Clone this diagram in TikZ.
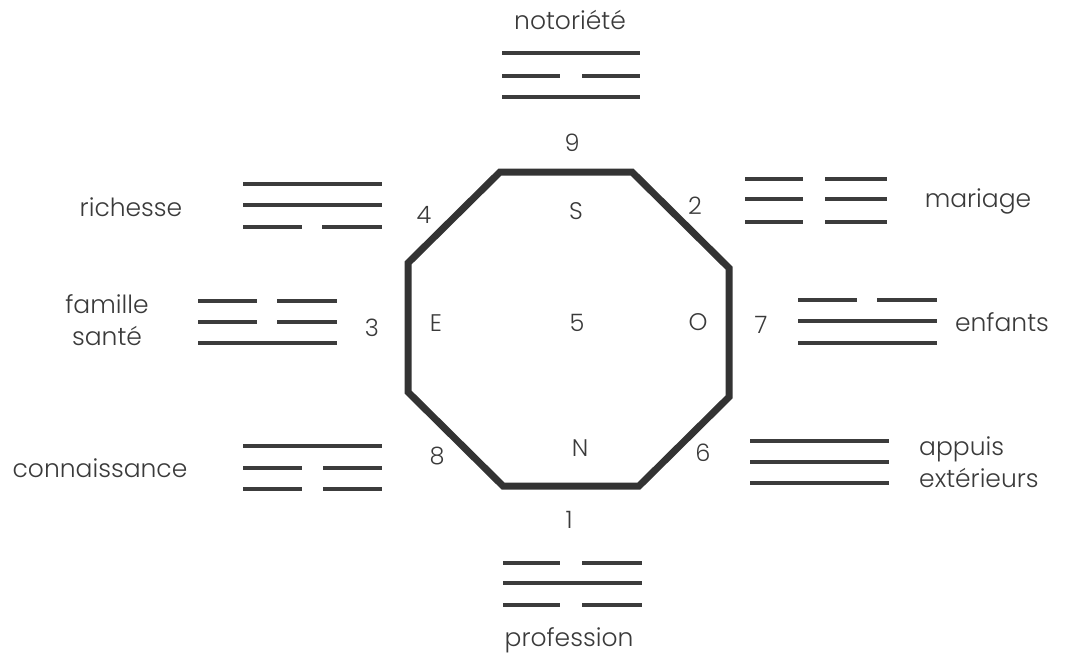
\documentclass[tikz,border=0pt]{standalone}
\usepackage{fontspec}
\setmainfont{Poppins Light}
\definecolor{ink}{HTML}{3A3A3A}
\definecolor{barc}{HTML}{3C3C3C}
\definecolor{octc}{HTML}{333333}
\newcommand\yangbar[3]{\draw[bar] (#1,#3) -- (#2,#3);}
\newcommand\yinbar[5]{\draw[bar] (#1,#5) -- (#2,#5); \draw[bar] (#3,#5) -- (#4,#5);}
\begin{document}
\begin{tikzpicture}[x=1pt,y=-1pt,
  bar/.style={line width=4.6pt,draw=barc},
  oct/.style={line width=7pt,draw=octc,line join=miter},
  lbl/.style={text=ink,font=\fontsize{25}{32}\selectfont,inner sep=0pt},
  num/.style={text=ink,font=\fontsize{24}{30}\selectfont,inner sep=0pt}]
\useasboundingbox (0,0) rectangle (1068,659);
% octagon
\draw[oct] (500,172) -- (632,172) -- (729,268) -- (729,397) -- (639,486) -- (503,486) -- (408,392) -- (408,263) -- cycle;
% inner letters
\node[num] (S) at (576,211) {S};
\node[num] (E) at (436,323) {E};
\node[num] (C) at (577,323) {5};
\node[num] (O) at (698,322) {O};
\node[num] (N) at (580,448) {N};
% numbers
\node[num] (n9) at (572,143) {9};
\node[num] (n2) at (695,206) {2};
\node[num] (n4) at (424,215) {4};
\node[num] (n3) at (372,328) {3};
\node[num] (n7) at (761,325) {7};
\node[num] (n8) at (437,456) {8};
\node[num] (n6) at (703,453) {6};
\node[num] (n1) at (569,520) {1};
% labels
\node[lbl] (noto) at (570,20) {notoriété};
\node[lbl] (prof) at (569,640) {profession};
\node[lbl] (rich) at (131,207) {richesse};
\node[lbl] (mari) at (978,201) {mariage};
\node[lbl,align=center] (fam) at (107,320) {famille\\santé};
\node[lbl] (enf) at (1002,322) {enfants};
\node[lbl] (conn) at (100,468) {connaissance};
\node[lbl,align=left,anchor=west] (app) at (919,462) {appuis\\extérieurs};
% trigrams
% notoriete (top)
\yangbar{502}{640}{53}
\yinbar{502}{560}{582}{640}{76}
\yangbar{502}{640}{97}
% richesse
\yangbar{243}{382}{184}
\yangbar{243}{382}{205}
\yinbar{243}{302}{322}{382}{227}
% famille sante
\yinbar{198}{257}{277}{337}{301}
\yinbar{198}{257}{277}{337}{322}
\yangbar{198}{337}{343}
% connaissance
\yangbar{243}{382}{446}
\yinbar{243}{302}{323}{382}{468}
\yinbar{243}{302}{323}{382}{489}
% mariage
\yinbar{745}{803}{825}{887}{179}
\yinbar{745}{803}{825}{887}{199}
\yinbar{745}{803}{825}{887}{222}
% enfants
\yinbar{798}{857}{877}{937}{300}
\yangbar{798}{937}{321}
\yangbar{798}{937}{343}
% appuis exterieurs
\yangbar{750}{889}{441}
\yangbar{750}{889}{462}
\yangbar{750}{889}{483}
% profession
\yinbar{503}{560}{582}{642}{563}
\yangbar{503}{642}{583}
\yinbar{503}{560}{582}{642}{605}
\end{tikzpicture}
\end{document}
